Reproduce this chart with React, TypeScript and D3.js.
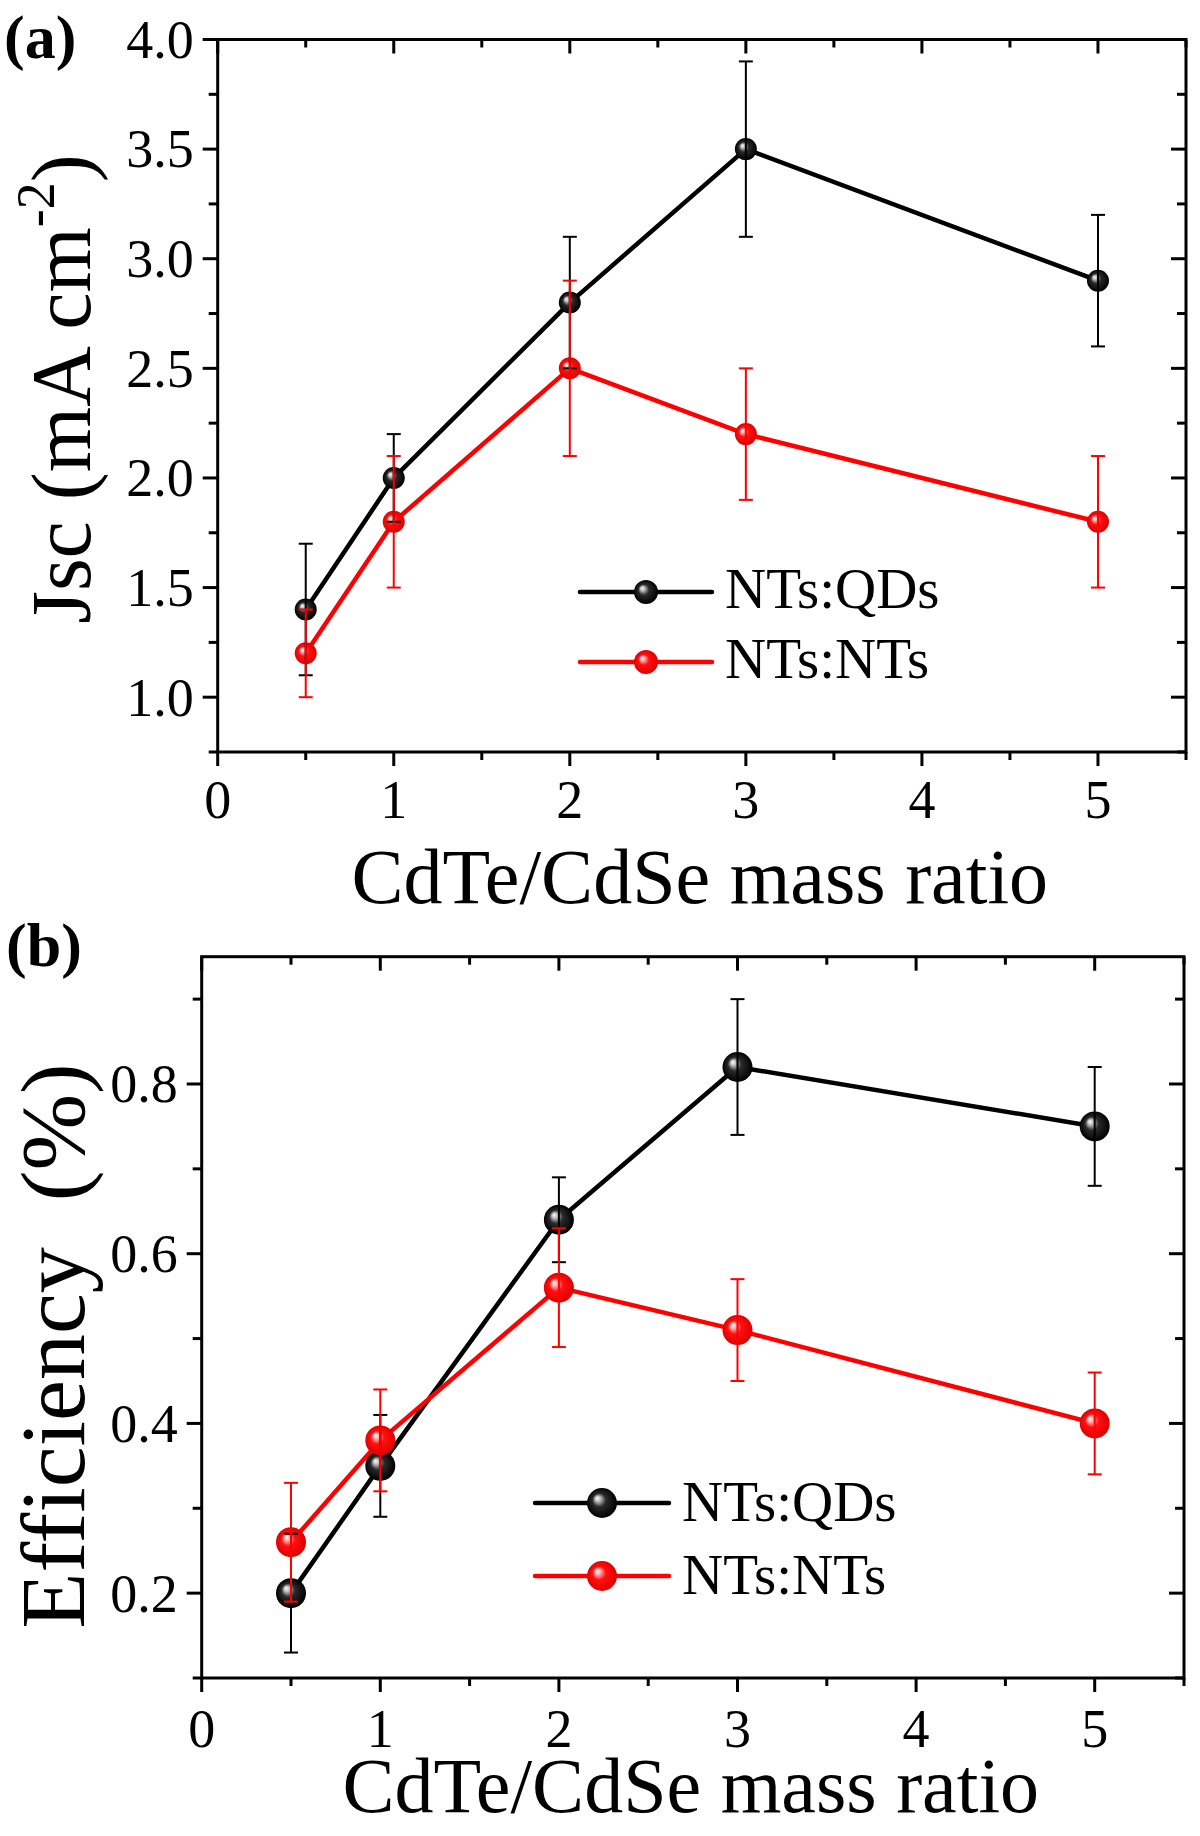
import React from "react";
import * as d3 from "d3";

const xVals = [0.5, 1, 2, 3, 5];
const jscQDs = [1.4, 2.0, 2.8, 3.5, 2.9];
const jscQDsErr = [0.3, 0.2, 0.3, 0.4, 0.3];
const jscNTs = [1.2, 1.8, 2.5, 2.2, 1.8];
const jscNTsErr = [0.2, 0.3, 0.4, 0.3, 0.3];
const effQDs = [0.2, 0.35, 0.64, 0.82, 0.75];
const effQDsErr = [0.07, 0.06, 0.05, 0.08, 0.07];
const effNTs = [0.26, 0.38, 0.56, 0.51, 0.4];
const effNTsErr = [0.07, 0.06, 0.07, 0.06, 0.06];

const xMajor = [0, 1, 2, 3, 4, 5];
const xMinor = [0.5, 1.5, 2.5, 3.5, 4.5, 5.5];
const jscMajor = [1.0, 1.5, 2.0, 2.5, 3.0, 3.5, 4.0];
const jscMinor = [0.75, 1.25, 1.75, 2.25, 2.75, 3.25, 3.75];
const effMajor = [0.2, 0.4, 0.6, 0.8];
const effMinor = [0.1, 0.3, 0.5, 0.7, 0.9];

const seriesNames = ["NTs:QDs", "NTs:NTs"];
const xTitle = "CdTe/CdSe mass ratio";

const FONT = "'Liberation Serif', 'Times New Roman', serif";
const RED = "#ff0000";

type PanelProps = {
  label: string;
  x0: number; x1: number; y0: number; y1: number;
  yDomain: [number, number];
  yMajor: number[]; yMinor: number[]; yFmt: (v: number) => string;
  qd: number[]; qdErr: number[]; nt: number[]; ntErr: number[];
  r: number;
  legend: { x0: number; x1: number; yA: number; yB: number; tx: number; dy: number; r: number };
  yTitle: React.ReactNode;
  labelPos: [number, number];
  xTitleY: number;
  xTickY: number;
};

function Panel(p: PanelProps) {
  const xs = d3.scaleLinear().domain([0, 5.5]).range([p.x0, p.x1]);
  const ys = d3.scaleLinear().domain(p.yDomain).range([p.y1, p.y0]);
  const line = d3.line<number>().x((_, i) => xs(xVals[i])).y((d) => ys(d));
  const series = [
    { vals: p.qd, err: p.qdErr, color: "#000", grad: "url(#gBlack)" },
    { vals: p.nt, err: p.ntErr, color: RED, grad: "url(#gRed)" },
  ];
  const ax = 3;
  return (
    <g>
      <text x={p.labelPos[0]} y={p.labelPos[1]} fontFamily={FONT} fontWeight="bold" fontSize={62}>{p.label}</text>
      {series.map((s, k) => (
        <path key={"l" + k} d={line(s.vals) || ""} fill="none" stroke={s.color} strokeWidth={4.5} strokeLinejoin="round" />
      ))}
      {series.map((s, k) =>
        s.vals.map((v, i) => (
          <circle key={"m" + k + i} cx={xs(xVals[i])} cy={ys(v)} r={p.r} fill={s.grad} />
        ))
      )}
      {series.map((s, k) =>
        s.vals.map((v, i) => {
          const cx = xs(xVals[i]);
          const lo = ys(v - s.err[i]);
          const hi = ys(v + s.err[i]);
          return (
            <g key={"e" + k + i} stroke={s.color} strokeWidth={2}>
              <line x1={cx} x2={cx} y1={lo} y2={hi} />
              <line x1={cx - 7} x2={cx + 7} y1={lo} y2={lo} />
              <line x1={cx - 7} x2={cx + 7} y1={hi} y2={hi} />
            </g>
          );
        })
      )}
      <rect x={p.x0} y={p.y0} width={p.x1 - p.x0} height={p.y1 - p.y0} fill="none" stroke="#000" strokeWidth={ax} />
      {xMajor.map((t) => (
        <g key={"xM" + t} stroke="#000" strokeWidth={ax}>
          <line x1={xs(t)} x2={xs(t)} y1={p.y1} y2={p.y1 + 14} />
          <line x1={xs(t)} x2={xs(t)} y1={p.y0} y2={p.y0 + 14} />
        </g>
      ))}
      {xMinor.map((t) => (
        <g key={"xm" + t} stroke="#000" strokeWidth={ax}>
          <line x1={xs(t)} x2={xs(t)} y1={p.y1} y2={p.y1 + 8} />
          <line x1={xs(t)} x2={xs(t)} y1={p.y0} y2={p.y0 + 8} />
        </g>
      ))}
      {p.yMajor.map((t) => (
        <g key={"yM" + t} stroke="#000" strokeWidth={ax}>
          <line x1={p.x0} x2={p.x0 - 15} y1={ys(t)} y2={ys(t)} />
          <line x1={p.x1} x2={p.x1 - 15} y1={ys(t)} y2={ys(t)} />
        </g>
      ))}
      {p.yMinor.map((t) => (
        <g key={"ym" + t} stroke="#000" strokeWidth={ax}>
          <line x1={p.x0} x2={p.x0 - 9} y1={ys(t)} y2={ys(t)} />
          <line x1={p.x1} x2={p.x1 - 9} y1={ys(t)} y2={ys(t)} />
        </g>
      ))}
      {xMajor.map((t) => (
        <text key={"xl" + t} x={xs(t)} y={p.xTickY} textAnchor="middle" fontFamily={FONT} fontSize={54}>{t}</text>
      ))}
      {p.yMajor.map((t) => (
        <text key={"yl" + t} x={p.x0 - 24} y={ys(t)} dy="0.34em" textAnchor="end" fontFamily={FONT} fontSize={54}>{p.yFmt(t)}</text>
      ))}
      <text x={(p.x0 + p.x1) / 2 - 2} y={p.xTitleY} textAnchor="middle" fontFamily={FONT} fontSize={78}>{xTitle}</text>
      {p.yTitle}
      {series.map((s, k) => {
        const ly = k === 0 ? p.legend.yA : p.legend.yB;
        return (
          <g key={"lg" + k}>
            <line x1={p.legend.x0} x2={p.legend.x1} y1={ly} y2={ly} stroke={s.color} strokeWidth={4.5} strokeLinecap="round" />
            <circle cx={(p.legend.x0 + p.legend.x1) / 2} cy={ly} r={p.legend.r} fill={s.grad} />
            <text x={p.legend.tx} y={ly + p.legend.dy} fontFamily={FONT} fontSize={57}>{seriesNames[k]}</text>
          </g>
        );
      })}
    </g>
  );
}

export default function App() {
  return (
    <svg width={1200} height={1836} viewBox="0 0 1200 1836" style={{ position: "absolute", left: 0, top: 0, background: "#fff" }}>
      <defs>
        <radialGradient id="gBlack" cx="0.5" cy="0.5" r="0.5" fx="0.33" fy="0.33">
          <stop offset="0" stopColor="#ffffff" />
          <stop offset="0.18" stopColor="#bdbdbd" />
          <stop offset="0.45" stopColor="#2a2a2a" />
          <stop offset="1" stopColor="#000000" />
        </radialGradient>
        <radialGradient id="gRed" cx="0.5" cy="0.5" r="0.5" fx="0.33" fy="0.33">
          <stop offset="0" stopColor="#ffffff" />
          <stop offset="0.18" stopColor="#ffb0b0" />
          <stop offset="0.45" stopColor="#ff1010" />
          <stop offset="1" stopColor="#e00000" />
        </radialGradient>
      </defs>
      <rect width={1200} height={1836} fill="#fff" />
      <Panel
        label="(a)"
        labelPos={[4, 58]}
        x0={217.7} x1={1186} y0={39.5} y1={752}
        yDomain={[0.75, 4.0]}
        yMajor={jscMajor} yMinor={jscMinor} yFmt={(v) => d3.format(".1f")(v)}
        qd={jscQDs} qdErr={jscQDsErr} nt={jscNTs} ntErr={jscNTsErr}
        r={11}
        legend={{ x0: 580, x1: 712, yA: 592, yB: 662, tx: 725, dy: 16, r: 12 }}
        xTickY={818}
        xTitleY={903}
        yTitle={
          <text transform="translate(90,389) rotate(-90)" textAnchor="middle" fontFamily={FONT} fontSize={84}>
            Jsc (mA cm<tspan fontSize={54} dy={-36}>-2</tspan><tspan dy={36}>)</tspan>
          </text>
        }
      />
      <Panel
        label="(b)"
        labelPos={[6, 966]}
        x0={201.7} x1={1184} y0={956.7} y1={1678}
        yDomain={[0.1, 0.95]}
        yMajor={effMajor} yMinor={effMinor} yFmt={(v) => d3.format(".1f")(v)}
        qd={effQDs} qdErr={effQDsErr} nt={effNTs} ntErr={effNTsErr}
        r={15}
        legend={{ x0: 535, x1: 669, yA: 1503, yB: 1576, tx: 682, dy: 18, r: 15 }}
        xTickY={1747}
        xTitleY={1812}
        yTitle={
          <text transform="translate(84,1346) rotate(-90)" textAnchor="middle" fontFamily={FONT} fontSize={92} style={{ whiteSpace: "pre" }}>
            {"Efficiency  (%)"}
          </text>
        }
      />
    </svg>
  );
}
